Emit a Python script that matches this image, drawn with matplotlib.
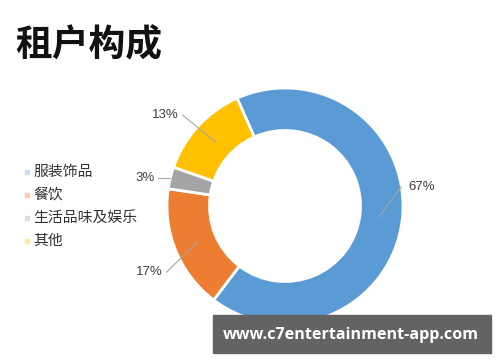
import numpy as np
import matplotlib
matplotlib.use("Agg")
import matplotlib.pyplot as plt
from matplotlib.patches import Rectangle

plt.rcParams['font.family'] = ['Noto Sans CJK SC', 'DejaVu Sans']

# data
categories = ["服装饰品", "餐饮", "生活品味及娱乐", "其他"]
shares = [67, 17, 3, 13]
pct_labels = ["67%", "17%", "3%", "13%"]
colors = ["#5B9BD5", "#ED7D31", "#A5A5A5", "#FFC000"]
legend_colors = ["#C9DCF0", "#F8CDB0", "#DCDCDC", "#FFE7A6"]

fig = plt.figure(figsize=(5, 3.62), dpi=100)

# title
fig.text(0.030, 0.873, "租户构成", fontsize=26.5, fontweight="bold", color="#111111",
         va="center", ha="left")

# donut
ax = fig.add_axes([0.334, 0.105, 0.472, 0.652])
wedges, _ = ax.pie(shares, colors=colors, startangle=114, counterclock=False,
                   radius=1.0, wedgeprops=dict(width=0.36, edgecolor="white", linewidth=2))
ax.set_xlim(-1, 1)
ax.set_ylim(-1, 1)
ax.axis("off")

# leader lines: (end radius, angle shift of end, text side)
leader = [(1.0, 16, "left"), (1.15, 7, "right"), (1.1, 1, "right"), (1.16, 1, "right")]
for w, lab, (r_end, dth, side) in zip(wedges, pct_labels, leader):
    mid = (w.theta1 + w.theta2) / 2
    t0 = np.deg2rad(mid)
    t1 = np.deg2rad(mid + dth)
    x0, y0 = 0.8 * np.cos(t0), 0.8 * np.sin(t0)
    x1, y1 = r_end * np.cos(t1), r_end * np.sin(t1)
    if lab == "3%":
        x0, y0 = 1.0 * np.cos(t0), 1.0 * np.sin(t0)
        y1 = y0
    ax.plot([x0, x1], [y0, y1], color="#A6A6A6", lw=0.8, clip_on=False)
    if side == "left":
        ax.text(x1 + 0.06, y1, lab, ha="left", va="center", fontsize=9.5,
                color="#404040", family="Liberation Sans")
    else:
        ax.text(x1 - 0.03, y1, lab, ha="right", va="center", fontsize=9.5,
                color="#404040", family="Liberation Sans")

# legend
for i, (cat, c) in enumerate(zip(categories, legend_colors)):
    y = 1 - (172 + i * 23) / 362
    fig.patches.append(Rectangle((0.050, y - 0.006), 0.008, 0.011, color=c,
                                 transform=fig.transFigure))
    fig.text(0.066, y, cat, fontsize=10.7, color="#333333", va="center", ha="left")

# watermark
fig.patches.append(Rectangle((213 / 500, 1 - 353 / 362), 278 / 500, 38 / 362,
                             color="#636363", transform=fig.transFigure, zorder=5))
fig.text(351 / 500, 1 - 335 / 362, "www.c7entertainment-app.com", fontsize=11.6,
         fontweight="bold", color="white", ha="center", va="center",
         family="Open Sans", zorder=6)

fig.savefig("out.png", dpi=100)
